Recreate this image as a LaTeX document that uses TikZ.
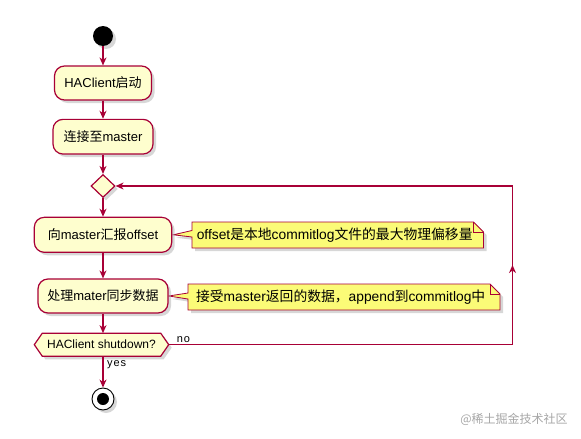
\documentclass[tikz,border=0pt]{standalone}
\usepackage{fontspec}
\setmainfont{Liberation Sans}
\newfontfamily\cjk{Noto Sans CJK SC}
\newfontfamily\lblfont[LetterSpace=8]{Liberation Sans}
\newcommand\zh[1]{{\cjk #1}}
\usetikzlibrary{shapes.geometric,shadows,calc,arrows.meta}
\definecolor{actfill}{HTML}{FEFECE}
\definecolor{actline}{HTML}{A80036}
\definecolor{notefill}{HTML}{FBFB77}
\pgfdeclarelayer{bg}\pgfsetlayers{bg,main}
\begin{document}
\begin{tikzpicture}[x=1pt,y=-1pt,
  shad/.style={drop shadow={shadow xshift=3pt,shadow yshift=-3pt,fill=black!35,opacity=0.45}},
  act/.style={draw=actline, fill=actfill, line width=1.2pt, rounded corners=10pt, inner sep=0pt,
    font=\fontsize{13}{15}\selectfont, shad},
  dia/.style={diamond, draw=actline, fill=actfill, line width=1.2pt, inner sep=0pt,
    minimum width=24pt, minimum height=23pt, shad},
  hexlbl/.style={inner sep=0pt, font=\fontsize{12}{14}\selectfont},
  hexshape/.style={draw=actline, fill=actfill, line width=1.2pt, shad},
  notetxt/.style={inner sep=0pt, font=\fontsize{13.8}{16}\selectfont},
  noteshape/.style={draw=actline, fill=notefill, line width=0.8pt, shad},
  notefold/.style={draw=actline, line width=0.8pt},
  startdot/.style={circle, fill=black, minimum size=20pt, inner sep=0pt, shad},
  enddot/.style={circle, draw=black, fill=white, line width=0.9pt, minimum size=22pt, inner sep=0pt, shad},
  endin/.style={circle, fill=black, minimum size=12pt, inner sep=0pt},
  lbl/.style={inner sep=0pt, font=\lblfont\fontsize{11}{13}\selectfont},
  arr/.style={draw=actline, line width=1.1pt, -{Stealth[length=8pt,width=7pt,inset=2.5pt]}},
  wm/.style={inner sep=0pt, text=black!35, font=\cjk\fontsize{12}{14}\selectfont}
]
\useasboundingbox (0,0) rectangle (581,439);

% activity nodes
\node[startdot] (s) at (103,36) {};
\node[act, minimum width=97pt, minimum height=34pt] (a1) at (103,83) {HAClient\zh{启动}};
\node[act, minimum width=100pt, minimum height=34.7pt] (a2) at (103,136.7) {\zh{连接至}master};
\node[dia] (d) at (103,186) {};
\node[act, minimum width=137.4pt, minimum height=35pt] (a3) at (103,234.8) {\zh{向}master\zh{汇报}offset};
\node[act, minimum width=130pt, minimum height=34pt] (a4) at (103,296) {\zh{处理}mater\zh{同步数据}};
\node[hexlbl, minimum width=134pt, minimum height=22.7pt] (h) at (101.5,344.7) {HAClient shutdown?};
\begin{pgfonlayer}{bg}
\path[hexshape] (h.west) -- ($(h.north west)+(8,0)$) -- ($(h.north east)+(-8,0)$) -- (h.east)
  -- ($(h.south east)+(-8,0)$) -- ($(h.south west)+(8,0)$) -- cycle;
\end{pgfonlayer}
\node[enddot] (e) at (103,399) {};
\node[endin] (ein) at (e) {};

% notes
\node[notetxt] (n1) at (334.7,235) {offset\zh{是本地}commitlog\zh{文件的最大物理偏移量}};
\node[notetxt] (n2) at (340.7,297) {\zh{接受}master\zh{返回的数据，}append\zh{到}commitlog\zh{中}};
\begin{pgfonlayer}{bg}
\path[noteshape] (192,222) -- (473.5,222) -- (483.5,232) -- (483.5,248) -- (192,248) -- (192,237)
  -- ($(a3.east)+(1,0)$) -- (192,230.5) -- cycle;
\draw[notefold] (473.5,222) -- (473.5,232) -- (483.5,232);
\path[noteshape] (188,284) -- (490,284) -- (500,294) -- (500,310) -- (188,310) -- (188,299)
  -- (a4.east) -- (188,293) -- cycle;
\draw[notefold] (490,284) -- (490,294) -- (500,294);
\end{pgfonlayer}

% connectors
\draw[arr] (s) -- (a1);
\draw[arr] (a1) -- (a2);
\draw[arr] (a2) -- (d);
\draw[arr] (d) -- (a3);
\draw[arr] (a3) -- (a4);
\draw[arr] (a4.south) -- (a4.south |- h.north);
\draw[arr] (h.south -| e) -- (e);
\coordinate (cR) at (512.5,344.7);
\coordinate (cT) at (512.5,186);
\coordinate (cM) at (512.5,265);
\draw[arr] (h.east) -- (cR) -- (cT) -- (d.east);
\draw[arr] (cR) -- (cM);

% labels
\node[lbl, anchor=west] (no) at ($(h.east)+(8,-5)$) {no};
\node[lbl, anchor=west] (yes) at ($(h.south)+(5.5,8)$) {yes};

% watermark
\node[wm] (w) at (514,419) {@稀土掘金技术社区};
\end{tikzpicture}
\end{document}
